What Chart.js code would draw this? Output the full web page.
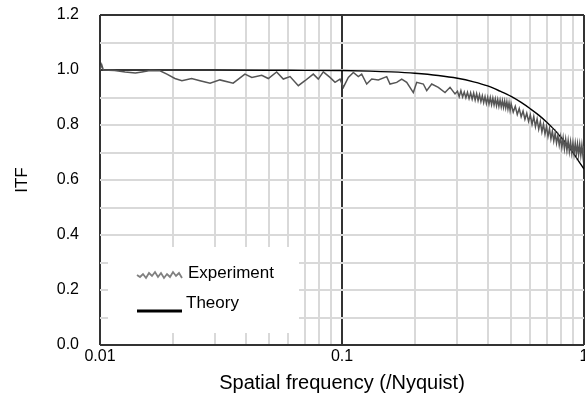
<!DOCTYPE html>
<html>
<head>
<meta charset="utf-8">
<script src="https://cdn.jsdelivr.net/npm/chart.js@4/dist/chart.umd.min.js"></script>
<style>
  body { margin: 0; background: #fff; overflow: hidden; }
  #wrap { width: 585px; height: 404px; overflow: hidden; }
</style>
</head>
<body>
<div id="wrap"><canvas id="itf-chart" width="600" height="404"></canvas></div>
<script>
var expFreq = [
    0.0100, 0.01016, 0.01032, 0.0115, 0.0127, 0.0140, 0.0149, 0.0161, 0.0177, 0.0189,
    0.0204, 0.0218, 0.0239, 0.0259, 0.0285, 0.0313, 0.0355, 0.0397, 0.0424, 0.0466,
    0.0496, 0.0537, 0.0572, 0.0610, 0.0660, 0.0703, 0.0761, 0.0798, 0.0837, 0.0892,
    0.0936, 0.0981, 0.1013, 0.1062, 0.1114, 0.1168, 0.1206, 0.1265, 0.1327, 0.1413,
    0.1530, 0.1579, 0.1683, 0.1765, 0.1851, 0.1971, 0.2036, 0.2168, 0.2239, 0.2348,
    0.2500, 0.2665, 0.2795, 0.2931,
    0.300, 0.305, 0.310, 0.315, 0.320, 0.325, 0.330, 0.335, 0.340, 0.345,
    0.350, 0.355, 0.360, 0.365, 0.370, 0.375, 0.380, 0.385, 0.390, 0.395,
    0.400, 0.405, 0.410, 0.415, 0.420, 0.425, 0.430, 0.435, 0.440, 0.445,
    0.450, 0.455, 0.460, 0.465, 0.470, 0.475, 0.480, 0.485, 0.490, 0.495,
    0.50, 0.51, 0.52, 0.53, 0.54, 0.55, 0.56, 0.57, 0.58, 0.59,
    0.60, 0.61, 0.62, 0.63, 0.64, 0.65, 0.66, 0.67, 0.68, 0.69,
    0.70, 0.71, 0.72, 0.73, 0.74, 0.75, 0.76, 0.77, 0.78, 0.79,
    0.80, 0.81, 0.82, 0.83, 0.84, 0.85, 0.86, 0.87, 0.88, 0.89,
    0.90, 0.91, 0.92, 0.93, 0.94, 0.95, 0.96, 0.97, 0.98, 0.99, 1.00
];
var expItf = [
    1.000, 1.020, 1.000, 0.998, 0.993, 0.989, 0.993, 0.998, 0.997, 0.985,
    0.969, 0.961, 0.969, 0.961, 0.952, 0.964, 0.952, 0.985, 0.973, 0.981,
    0.969, 0.993, 0.967, 0.976, 0.943, 0.961, 0.985, 0.967, 0.993, 0.973,
    0.955, 0.967, 0.937, 0.973, 0.991, 0.976, 0.985, 0.949, 0.967, 0.964,
    0.976, 0.949, 0.955, 0.967, 0.955, 0.918, 0.955, 0.949, 0.925, 0.949,
    0.937, 0.918, 0.937, 0.913,
    0.923, 0.903, 0.925, 0.902, 0.920, 0.899, 0.919, 0.896, 0.917, 0.894,
    0.916, 0.891, 0.914, 0.889, 0.910, 0.885, 0.906, 0.881, 0.903, 0.878,
    0.901, 0.876, 0.900, 0.874, 0.898, 0.873, 0.895, 0.870, 0.893, 0.868,
    0.891, 0.866, 0.889, 0.864, 0.887, 0.862, 0.885, 0.858, 0.881, 0.853,
    0.877, 0.847, 0.868, 0.838, 0.860, 0.830, 0.851, 0.821, 0.843, 0.813,
    0.837, 0.802, 0.831, 0.794, 0.822, 0.785, 0.812, 0.775, 0.803, 0.767,
    0.795, 0.759, 0.787, 0.750, 0.778, 0.742, 0.770, 0.734, 0.762, 0.727,
    0.757, 0.718, 0.753, 0.713, 0.748, 0.708, 0.744, 0.703, 0.739, 0.699,
    0.735, 0.696, 0.733, 0.694, 0.731, 0.692, 0.729, 0.690, 0.727, 0.688, 0.724
];

// theoretical ITF
var theoryFreq = [0.01, 0.03, 0.06, 0.1, 0.13, 0.16, 0.2, 0.25, 0.3, 0.35, 0.4, 0.45,
    0.5, 0.55, 0.6, 0.65, 0.7, 0.75, 0.8, 0.85, 0.9, 0.95, 1.0];
var theoryItf = [1.000, 1.000, 0.999, 0.998, 0.996, 0.993, 0.988, 0.980, 0.970, 0.957, 0.942, 0.923,
    0.904, 0.882, 0.859, 0.836, 0.811, 0.785, 0.757, 0.729, 0.700, 0.669, 0.640];

var xGridValues = [0.01, 0.02, 0.03, 0.04, 0.05, 0.06, 0.07, 0.08, 0.09,
    0.1, 0.2, 0.3, 0.4, 0.5, 0.6, 0.7, 0.8, 0.9, 1];
var xLabelValues = [0.01, 0.1, 1];
var xLabelText = ['0.01', '0.1', '1'];

var FONT = "'Liberation Sans', Arial, sans-serif";

function toPoints(xs, ys) {
    return xs.map(function (x, i) { return { x: x, y: ys[i] }; });
}

var insideLegend = {
    id: 'insideLegend',
    afterDatasetsDraw: function (chart) {
        var ctx = chart.ctx;
        var a = chart.chartArea;
        var x0 = a.left + 8, y0 = a.bottom - 98;
        ctx.save();
        ctx.fillStyle = '#fff';
        ctx.fillRect(x0, y0, 191, 86);

        // zigzag sample for the experiment
        var zig = [0, -2, 1, -3, 2, -1, 3, -2, 2, -3, 1, -2, 3, -1, 2, -3];
        ctx.strokeStyle = '#808080';
        ctx.lineWidth = 1.8;
        ctx.beginPath();
        for (var i = 0; i < zig.length; i++) {
            var px = x0 + 29 + i * 3;
            var py = y0 + 28 - zig[i];
            if (i === 0) ctx.moveTo(px, py); else ctx.lineTo(px, py);
        }
        ctx.stroke();

        ctx.strokeStyle = '#000';
        ctx.lineWidth = 3;
        ctx.beginPath();
        ctx.moveTo(x0 + 29, y0 + 64);
        ctx.lineTo(x0 + 74, y0 + 64);
        ctx.stroke();

        ctx.fillStyle = '#000';
        ctx.font = '17px ' + FONT;
        ctx.textBaseline = 'alphabetic';
        ctx.fillText('Experiment', x0 + 80, y0 + 31);
        ctx.fillText('Theory', x0 + 78, y0 + 61);
        ctx.restore();
    }
};

new Chart(document.getElementById('itf-chart'), {
    type: 'line',
    data: {
        datasets: [{
            label: 'Experiment',
            data: toPoints(expFreq, expItf),
            borderColor: '#555',
            borderWidth: 1.5,
            pointRadius: 0,
            tension: 0
        }, {
            label: 'Theory',
            data: toPoints(theoryFreq, theoryItf),
            borderColor: '#000',
            borderWidth: 1.4,
            pointRadius: 0,
            cubicInterpolationMode: 'monotone'
        }]
    },
    plugins: [insideLegend],
    options: {
        responsive: false,
        animation: false,
        devicePixelRatio: 1,
        layout: { padding: { top: 15, right: 16, left: 0, bottom: 0 } },
        plugins: {
            legend: { display: false },
            tooltip: { enabled: false }
        },
        scales: {
            x: {
                type: 'logarithmic',
                min: 0.01,
                max: 1,
                afterBuildTicks: function (scale) {
                    scale.ticks = xGridValues.map(function (v) { return { value: v }; });
                },
                afterFit: function (scale) { scale.height = 59; },
                border: { display: false },
                grid: {
                    drawTicks: false,
                    lineWidth: 2,
                    color: function (c) {
                        var v = c.tick && c.tick.value;
                        return (v === 0.1 || v === 0.01 || v === 1) ? '#333' : '#d9d9d9';
                    }
                },
                ticks: {
                    autoSkip: false,
                    maxRotation: 0,
                    padding: 2,
                    color: '#000',
                    font: { family: FONT, size: 16 },
                    callback: function (v) {
                        var k = xLabelValues.indexOf(v);
                        return k >= 0 ? xLabelText[k] : '';
                    }
                },
                title: {
                    display: true,
                    text: 'Spatial frequency (/Nyquist)',
                    color: '#000',
                    font: { family: FONT, size: 20 },
                    padding: { top: 0, bottom: 9 }
                }
            },
            y: {
                min: 0,
                max: 1.2,
                afterFit: function (scale) {
                    scale.width = 100;
                    // the label gap should not push the plot down
                    scale.paddingTop = 0;
                    scale.paddingBottom = 0;
                },
                border: { display: false },
                grid: {
                    drawTicks: false,
                    lineWidth: 2,
                    color: function (c) {
                        var v = c.tick && Math.round(c.tick.value * 10);
                        return (v === 0 || v === 12) ? '#333' : '#d9d9d9';
                    }
                },
                ticks: {
                    stepSize: 0.1,
                    padding: 21,
                    color: '#000',
                    font: { family: FONT, size: 16 },
                    callback: function (v) {
                        var k = Math.round(v * 10);
                        return k % 2 === 0 ? (k / 10).toFixed(1) : '';
                    }
                },
                title: {
                    display: true,
                    text: 'ITF',
                    color: '#000',
                    font: { family: FONT, size: 17 },
                    padding: { top: 12, bottom: 0 }
                }
            }
        }
    }
});
</script>
</body>
</html>
